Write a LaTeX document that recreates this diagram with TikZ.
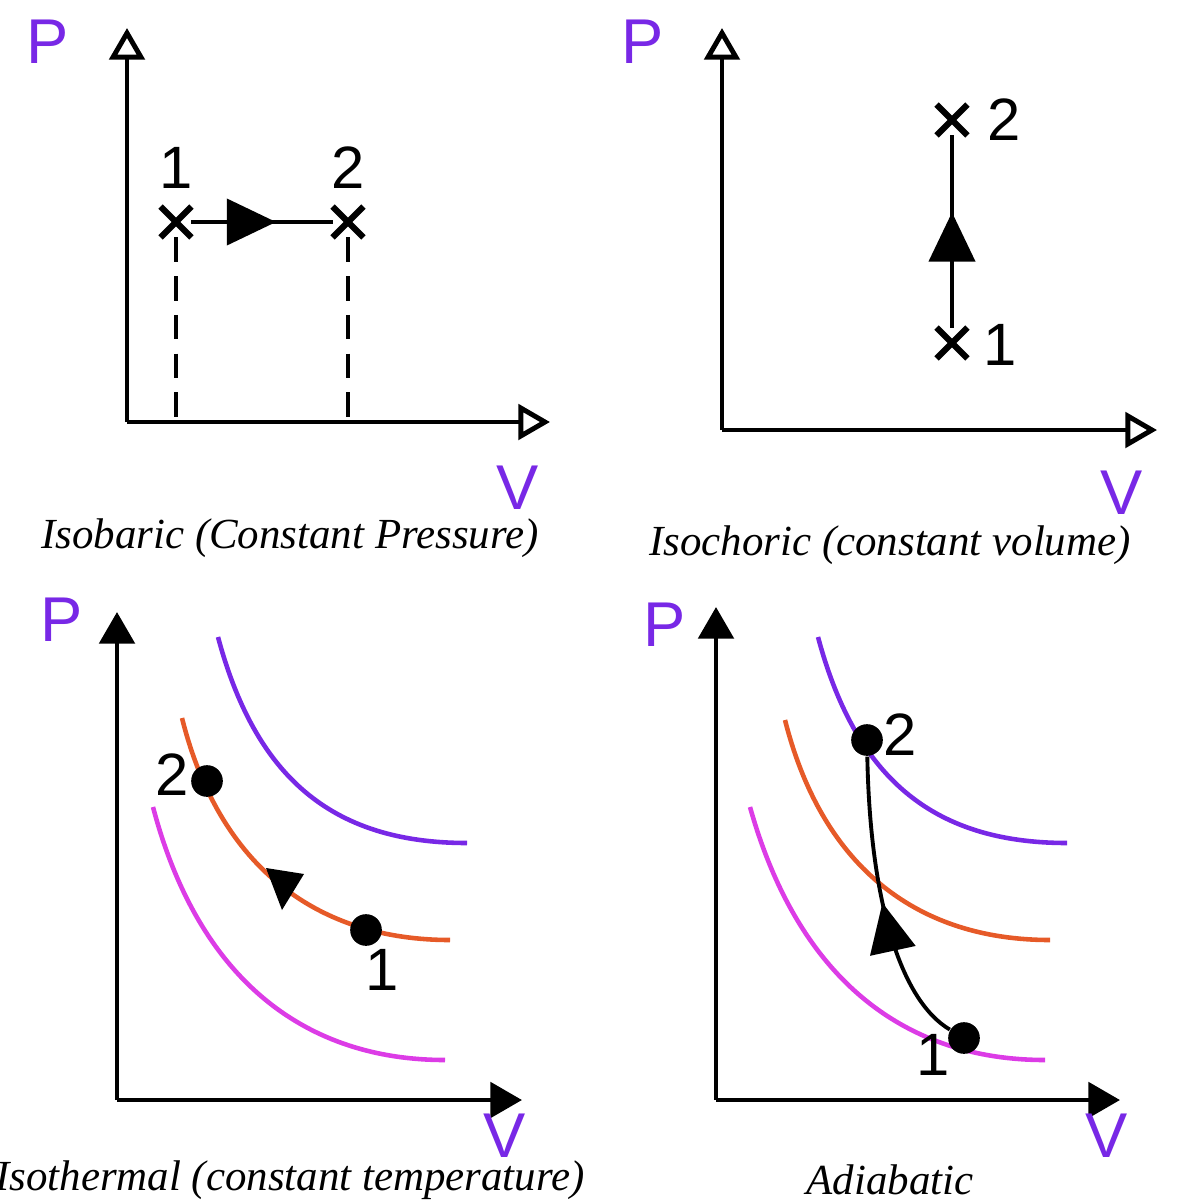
\documentclass[tikz,border=0pt]{standalone}
\usepackage{fontspec}
\setmainfont{Liberation Sans}
\newfontfamily\capfont{Liberation Serif}
\usetikzlibrary{arrows.meta,shapes.misc,decorations.markings}
\definecolor{pur}{RGB}{120,40,230}
\definecolor{org}{RGB}{230,90,40}
\definecolor{mag}{RGB}{220,60,230}
\begin{document}
\begin{tikzpicture}[x=0.01cm,y=-0.01cm,
  ax/.style={line width=1.4pt},
  openax/.style={ax,-{Triangle[open,length=9pt,width=10pt]}},
  fillax/.style={ax,-{Triangle[length=9pt,width=10pt]}},
  lab/.style={font=\fontsize{17}{20}\selectfont},
  axlab/.style={font=\fontsize{18}{20}\selectfont,text=pur},
  captxt/.style={font=\capfont\itshape\fontsize{12.2}{14}\selectfont,inner sep=0pt},
  xm/.style={cross out,draw,line width=1.8pt,minimum size=7pt,inner sep=0pt},
  dot/.style={circle,fill,minimum size=9pt,inner sep=0pt},
  midarr/.style={postaction={decorate},decoration={markings,mark=at position #1 with {\arrow{Triangle[length=14pt,width=13pt]}}}},
  curve/.style={line width=1.3pt}]
\useasboundingbox (0,0) rectangle (1185,1200);
% panel 1
\coordinate (o1) at (127,422);
\coordinate (y1) at (127,28);
\coordinate (x1) at (550,422);
\draw[openax] (o1) -- (y1);
\draw[openax] (o1) -- (x1);
\node[xm] (a1) at (176,222) {};
\node[xm] (a2) at (348,222) {};
\coordinate (b1) at (176,422);
\coordinate (b2) at (348,422);
\draw[ax,dash pattern=on 7pt off 4pt] (a1) -- (b1);
\draw[ax,dash pattern=on 7pt off 4pt] (a2) -- (b2);
\draw[ax,midarr=0.6] (a1) -- (a2);
\node[lab] (l11) at (176,168) {1};
\node[lab] (l12) at (348,168) {2};
\node[axlab] (p1) at (48,42) {P};
\node[axlab] (v1) at (518,488) {V};
\node[captxt] (c1) at (290,538) {Isobaric (Constant Pressure)};
% panel 2
\coordinate (o2) at (722,430);
\coordinate (y2) at (722,28);
\coordinate (x2) at (1157,430);
\draw[openax] (o2) -- (y2);
\draw[openax] (o2) -- (x2);
\node[xm] (d2) at (952,120) {};
\node[xm] (d1) at (952,343) {};
\draw[ax,midarr=0.6] (d1) -- (d2);
\node[lab] (l22) at (1004,120) {2};
\node[lab] (l21) at (1000,345) {1};
\node[axlab] (p2) at (643,42) {P};
\node[axlab] (v2) at (1122,493) {V};
\node[captxt] (c2) at (890,545) {Isochoric (constant volume)};
% panel 3
\coordinate (o3) at (117,1100);
\coordinate (y3) at (117,612);
\coordinate (x3) at (522,1100);
\draw[fillax] (o3) -- (y3);
\draw[fillax] (o3) -- (x3);
\draw[curve,pur] (218,637) .. controls (255,775) and (330,843) .. (467,843);
\draw[curve,org] (182,718) .. controls (220,870) and (320,940) .. (450,940);
\draw[curve,mag] (153,807) .. controls (200,985) and (310,1060) .. (445,1060);
\node[dot] (e2) at (207,781) {};
\node[dot] (e1) at (366,930) {};
\node[lab] (l32) at (172,775) {2};
\node[lab] (l31) at (382,970) {1};
\node[axlab] (p3) at (62,620) {P};
\node[axlab] (v3) at (505,1136) {V};
\fill (266,868) -- (304,874) -- (282,910) -- cycle;
\node[captxt] (c3) at (290,1180) {Isothermal (constant temperature)};
% panel 4
\coordinate (o4) at (716,1100);
\coordinate (y4) at (716,607);
\coordinate (x4) at (1120,1100);
\draw[fillax] (o4) -- (y4);
\draw[fillax] (o4) -- (x4);
\draw[curve,pur] (818,637) .. controls (855,775) and (930,843) .. (1067,843);
\draw[curve,org] (785,720) .. controls (823,870) and (920,940) .. (1050,940);
\draw[curve,mag] (750,807) .. controls (800,985) and (910,1060) .. (1045,1060);
\node[dot] (f2) at (867,740) {};
\node[dot] (f1) at (964,1038) {};
\draw[line width=1.1pt,midarr=0.5] (f1) .. controls (900,1000) and (870,900) .. (f2);
\node[lab] (l42) at (900,735) {2};
\node[lab] (l41) at (933,1055) {1};
\node[axlab] (p4) at (665,625) {P};
\node[axlab] (v4) at (1107,1136) {V};
\node[captxt] (c4) at (890,1180) {Adiabatic};
\end{tikzpicture}
\end{document}
